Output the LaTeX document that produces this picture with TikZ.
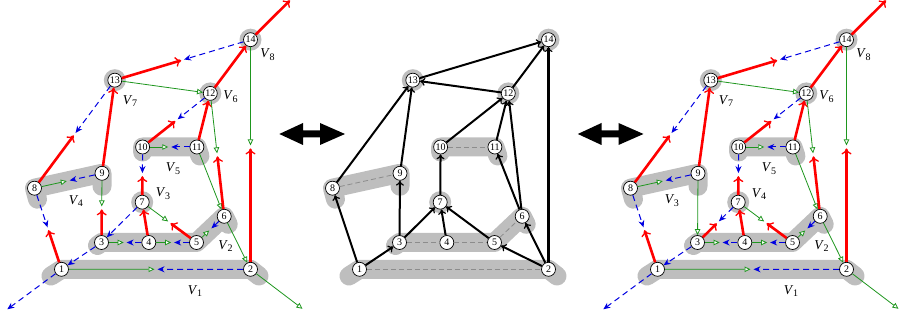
\documentclass[tikz,border=0pt]{standalone}
\usepackage{fontspec}
\setmainfont{Liberation Serif}
\usetikzlibrary{arrows.meta,calc}
\definecolor{bandgray}{RGB}{190,190,190}
\definecolor{gn}{RGB}{30,150,30}
\definecolor{bl}{RGB}{0,0,225}
\tikzset{
  vtx/.style={circle,draw=black,line width=0.7pt,fill=white,inner sep=0pt,
    minimum size=14pt,font=\fontsize{10}{10}\selectfont},
  band/.style={draw=bandgray,line width=19pt,line cap=round,line join=round},
  rarr/.style={draw=red,line width=2.6pt,-{To[length=6pt,width=10pt,line width=1.3pt]}},
  garr/.style={draw=gn,line width=0.8pt,-{Triangle[open,fill=white,length=6pt,width=5.5pt]}},
  barr/.style={draw=bl,line width=1pt,dash pattern=on 6pt off 4pt,-{Stealth[length=7pt,width=6pt]}},
  karr/.style={draw=black,line width=2pt,-{To[length=5pt,width=8pt,line width=1.2pt]}},
  grp/.style={draw=black!45,line width=0.8pt,dash pattern=on 5pt off 3pt},
  vlab/.style={inner sep=0pt,font=\fontsize{13.5}{13.5}\selectfont},
  half/.style={shorten >=1.5pt},
}
\newcommand\Vl[1]{\textit{V}\kern-0.5pt\raisebox{-0.45ex}{\fontsize{10}{10}\selectfont #1}}
\newcommand\Halves[4]{%
  \draw[#3,half] (#1) -- ($(#1)!0.5!(#2)$);
  \draw[#4,half] (#2) -- ($(#2)!0.5!(#1)$);}
\newcommand\CommonEdges[1]{%
  \coordinate (#1o1) at ($(#1c1)+(-54.2,-40)$);
  \coordinate (#1o2) at ($(#1c2)+(52,-39.5)$);
  \coordinate (#1o14) at ($(#1c14)+(39.5,39.3)$);
  \coordinate (#1m214) at ($(#1c2)!0.533!(#1c14)$);
  \Halves{#11}{#12}{garr}{barr}
  \Halves{#11}{#18}{rarr}{barr}
  \draw[barr] (#13) -- (#11);
  \draw[barr] (#11) -- (#1o1);
  \draw[garr] (#12) -- (#1o2);
  \draw[rarr] (#114) -- (#1o14);
  \Halves{#18}{#19}{garr}{barr}
  \Halves{#13}{#14}{garr}{barr}
  \Halves{#14}{#15}{garr}{barr}
  \draw[rarr] (#14) -- (#17);
  \Halves{#15}{#17}{rarr}{garr}
  \Halves{#15}{#16}{garr}{barr}
  \Halves{#17}{#110}{rarr}{barr}
  \Halves{#110}{#111}{garr}{barr}
  \Halves{#110}{#112}{rarr}{barr}
  \draw[rarr] (#111) -- (#112);
  \draw[garr] (#111) -- (#16);
  \Halves{#16}{#112}{rarr}{garr}
  \draw[garr] (#16) -- (#12);
  \draw[rarr] (#112) -- (#114);
  \draw[garr] (#113) -- (#112);
  \Halves{#113}{#114}{rarr}{barr}
  \draw[rarr,half] (#12) -- (#1m214);
  \draw[garr,half] (#114) -- (#1m214);
  \Halves{#18}{#113}{rarr}{barr}
  \draw[rarr] (#19) -- (#113);}
\begin{document}
\begin{tikzpicture}[x=1pt,y=1pt]
\useasboundingbox (0,0) rectangle (899,320);
\foreach \p/\dx in {L/0,M/298,R/596}{
  \foreach \n/\x/\y in {1/61.5/50.7,2/250.5/50.7,3/101.5/77.5,4/148.8/77.5,5/196.5/77.5,
      6/224.2/103.7,7/142.2/117.8,8/34.5/131.8,9/102/146.7,10/142.6/173,11/196.9/173,
      12/210.3/226.6,13/114.8/239.8,14/250.5/280.3}
    \coordinate (\p c\n) at (\x+\dx,\y);
  \draw[band] ($(\p c1)+(-10.5,-6.7)$) -- (\p c1) -- (\p c2) -- ($(\p c2)+(8.5,-6.7)$);
  \draw[band] ($(\p c3)+(-4,-3)$) -- (\p c3) -- (\p c4) -- (\p c5) -- (\p c6) -- ($(\p c6)+(4,-8)$);
  \draw[band] ($(\p c8)+(3,-11)$) -- (\p c8) -- (\p c9) -- ($(\p c9)+(0,-13)$);
  \draw[band] ($(\p c10)+(0,-5)$) -- (\p c10) -- (\p c11) -- ($(\p c11)+(3,-9)$);
  \foreach \n in {7,12,13,14} \fill[bandgray] (\p c\n) circle[radius=11];
  \foreach \n in {1,...,14} \node[vtx] (\p\n) at (\p c\n) {\n};
}
% left
\CommonEdges{L}
\Halves{L3}{L9}{rarr}{garr}
\draw[barr] (L7) -- (L3);
% right
\CommonEdges{R}
\draw[garr] (R9) -- (R3);
\Halves{R3}{R7}{rarr}{barr}
% middle
\foreach \a/\b in {1/2,3/4,4/5,5/6,8/9,10/11} \draw[grp] (M\a) -- (M\b);
\foreach \a/\b in {1/8,1/3,2/5,2/6,3/7,3/9,4/7,5/7,7/10,6/11,6/12,11/12,10/12,12/13,12/14,13/14,8/13,9/13}
  \draw[karr] (M\a) -- (M\b);
\draw[karr,line width=2.3pt] (M2) -- (M14);
% labels
\node[vlab] (l1) at (195,29) {\Vl{1}};
\node[vlab] (l2) at (225.5,74) {\Vl{2}};
\node[vlab] (l3) at (163,126) {\Vl{3}};
\node[vlab] (l4) at (75.8,119) {\Vl{4}};
\node[vlab] (l5) at (173,151) {\Vl{5}};
\node[vlab] (l6) at (230.5,223) {\Vl{6}};
\node[vlab] (l7) at (130,219) {\Vl{7}};
\node[vlab] (l8) at (267.5,265) {\Vl{8}};
\node[vlab] (r1) at (791,29) {\Vl{1}};
\node[vlab] (r2) at (821.5,74) {\Vl{2}};
\node[vlab] (r4) at (759,126) {\Vl{4}};
\node[vlab] (r3) at (671.8,119) {\Vl{3}};
\node[vlab] (r5) at (769,151) {\Vl{5}};
\node[vlab] (r6) at (826.5,223) {\Vl{6}};
\node[vlab] (r7) at (726,219) {\Vl{7}};
\node[vlab] (r8) at (863.5,265) {\Vl{8}};
% double arrows
\foreach \s in {0,298.5}
  \fill[black,xshift=\s] (279.3,186) -- (303,197) -- (303,189.5) -- (320,189.5) -- (320,197) -- (345,186)
    -- (320,175) -- (320,182.5) -- (303,182.5) -- (303,175) -- cycle;
\end{tikzpicture}
\end{document}
